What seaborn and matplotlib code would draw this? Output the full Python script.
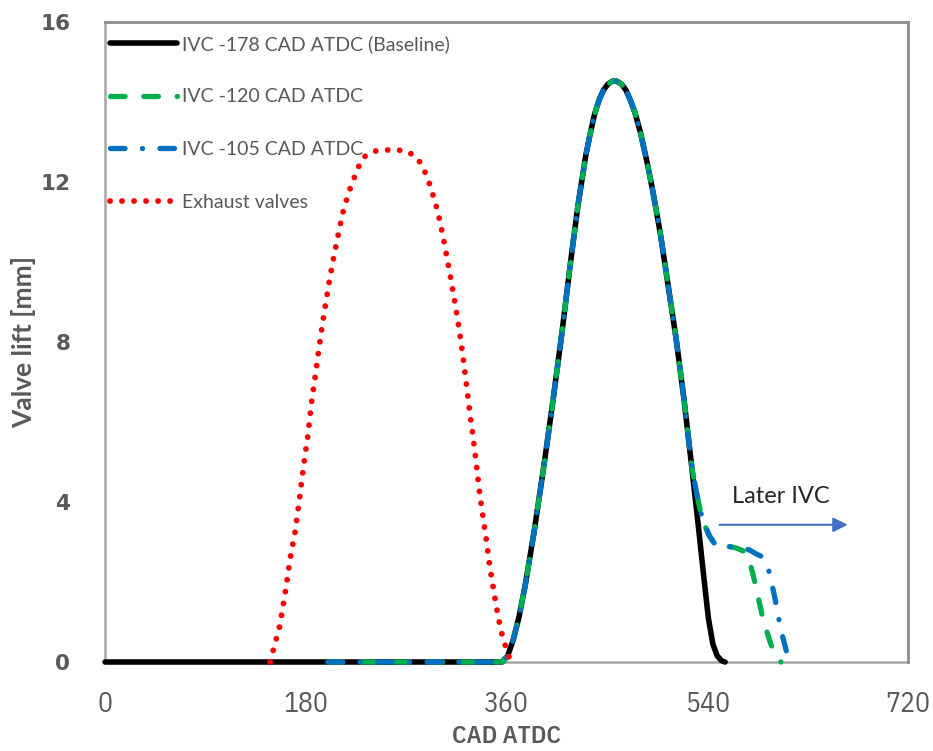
import matplotlib
matplotlib.use("Agg")
import numpy as np
import pandas as pd
import seaborn as sns
import matplotlib.pyplot as plt

# ---------------- data ----------------
exh_cad = [148, 151, 156.6, 161.8, 166.4, 170.4, 174.6, 178.6, 181.7, 185.3, 188.3,
           191.4, 194.7, 200.8, 204.5, 208.8, 213.1, 219.2, 226.8, 231.9, 241.1,
           251.6, 262.3, 270.7, 279.8, 285.2, 289.4, 292.8, 298.6, 303.1, 307,
           310.7, 314.3, 317.7, 320.6, 323.3, 325.8, 328.5, 331.3, 333.7, 336.1,
           339.1, 342.2, 344.9, 348.3, 351.9, 354, 356.4, 359.5, 362.2, 364]
exh_lift = [0, 0.31, 0.89, 1.77, 2.65, 3.24, 4.13, 5.02, 5.62, 6.51, 7.1,
            7.75, 8.4, 9.47, 10.04, 10.64, 11.22, 11.79, 12.35, 12.62, 12.77,
            12.8, 12.8, 12.77, 12.61, 12.36, 12.08, 11.8, 11.24, 10.64, 10.05,
            9.48, 8.89, 8.3, 7.71, 7.12, 6.53, 5.94, 5.35, 4.76, 4.18,
            3.59, 3.0, 2.41, 1.82, 1.23, 0.93, 0.64, 0.36, 0.13, 0]

# common intake lift (shared by all IVC cases up to ~526 CAD)
int_cad = [356, 361, 366, 371, 377, 385, 394, 402, 410, 417, 424, 431, 435, 439,
           443, 447, 451, 455, 459, 463, 467, 471, 475, 480, 486, 491, 498, 505,
           512, 519, 526]
int_lift = [0, 0.15, 0.55, 1.1, 1.95, 3.3, 5.0, 6.6, 8.3, 9.9, 11.4, 12.65, 13.2, 13.7,
            14.05, 14.3, 14.45, 14.52, 14.52, 14.45, 14.3, 14.05, 13.75, 13.25, 12.5,
            11.8, 10.7, 9.4, 8.1, 6.6, 4.9]

# baseline closing flank
base_tail_cad = [532, 537, 541, 545, 549, 553, 556]
base_tail_lift = [3.4, 2.1, 1.1, 0.45, 0.15, 0.03, 0]

# late-IVC closing flanks
ivc120_tail_cad = [530, 534, 538, 542, 546, 551, 556, 561, 566, 572, 577, 581,
                   585, 589, 593, 597, 601, 604, 606]
ivc120_tail_lift = [4.3, 3.75, 3.4, 3.15, 2.98, 2.9, 2.9, 2.88, 2.85, 2.78, 2.6, 2.2,
                    1.7, 1.2, 0.8, 0.45, 0.18, 0.04, 0]
ivc105_tail_cad = [530, 534, 538, 542, 546, 551, 556, 561, 566, 572, 578, 584,
                   588, 592, 595, 598, 601, 604, 607, 610, 612, 614]
ivc105_tail_lift = [4.3, 3.75, 3.4, 3.15, 2.98, 2.9, 2.9, 2.88, 2.87, 2.85, 2.8, 2.7,
                    2.65, 2.5, 2.3, 1.95, 1.55, 1.1, 0.7, 0.38, 0.15, 0]

base_zero_start = 0      # baseline drawn from 0 CAD
late_zero_start = 200    # late IVC cases drawn from 200 CAD

labels = ["IVC -178 CAD ATDC (Baseline)", "IVC -120 CAD ATDC",
          "IVC -105 CAD ATDC", "Exhaust valves"]
xticks = [0, 180, 360, 540, 720]
yticks = [0, 4, 8, 12, 16]

# ---------------- build tables ----------------
base = pd.DataFrame({"cad": [base_zero_start] + int_cad + base_tail_cad,
                     "lift": [0] + int_lift + base_tail_lift})
ivc120 = pd.DataFrame({"cad": [late_zero_start] + int_cad + ivc120_tail_cad,
                       "lift": [0] + int_lift + ivc120_tail_lift})
ivc105 = pd.DataFrame({"cad": [late_zero_start] + int_cad + ivc105_tail_cad,
                       "lift": [0] + int_lift + ivc105_tail_lift})
exh = pd.DataFrame({"cad": exh_cad, "lift": exh_lift})

# ---------------- style ----------------
sns.set_style("white")
plt.rcParams["font.family"] = ["Lato", "DejaVu Sans"]
plt.rcParams["lines.scale_dashes"] = False

GRAY = "#595959"
fig, ax = plt.subplots(figsize=(9.33, 7.51), dpi=100)
fig.subplots_adjust(left=105/933, right=908/933, top=1-22/751, bottom=1-662/751)

common = dict(ax=ax, x="cad", y="lift", sort=False, errorbar=None,
              clip_on=False, dash_capstyle="round", solid_capstyle="round")
sns.lineplot(data=base, color="black", linewidth=4.0, label=labels[0], zorder=3, **common)
sns.lineplot(data=ivc120, color="#00B050", linewidth=3.8, linestyle=(0, (10.5, 13.5)),
             label=labels[1], zorder=4, **common)
sns.lineplot(data=ivc105, color="#0070C0", linewidth=3.8,
             linestyle=(0, (10.5, 12.5, 0.1, 12.5)), label=labels[2], zorder=5, **common)
sns.lineplot(data=exh, color="#FF0000", linewidth=4.2, linestyle=(0, (0.05, 8.6)),
             label=labels[3], zorder=6, **common)

ax.set_xlim(0, 720)
ax.set_ylim(0, 16)
ax.set_xticks(xticks)
ax.set_yticks(yticks)

for side in ["top", "right"]:
    ax.spines[side].set_color("#8c8c8c")
    ax.spines[side].set_linewidth(2.0)
for side in ["left", "bottom"]:
    ax.spines[side].set_color("#a6a6a6")
    ax.spines[side].set_linewidth(1.8)
    ax.spines[side].set_zorder(1)

ax.tick_params(axis="both", direction="in", length=4, width=1, colors="#a6a6a6")
ax.tick_params(axis="x", pad=21, labelcolor=GRAY)
ax.tick_params(axis="y", pad=25, labelcolor=GRAY)
ax.minorticks_off()
for lbl in ax.get_yticklabels():
    lbl.set_fontfamily(["DejaVu Sans"])
    lbl.set_fontweight("bold")
    lbl.set_fontsize(15.5)
for lbl in ax.get_xticklabels():
    lbl.set_fontfamily(["IBM Plex Sans Condensed", "DejaVu Sans"])
    lbl.set_fontsize(20)

ax.set_xlabel("CAD ATDC", fontsize=18, color=GRAY, fontweight=600,
              family=["IBM Plex Sans Condensed", "DejaVu Sans"], labelpad=5)
ax.set_ylabel("Valve lift [mm]", fontsize=19, color=GRAY, fontweight="bold",
              family=["Lato", "DejaVu Sans"], labelpad=3)

ax.legend(loc="upper left", bbox_to_anchor=(0.006, 0.980), frameon=False,
          fontsize=14, labelcolor=GRAY, borderaxespad=0, borderpad=0,
          handlelength=3.43, handletextpad=0.3, labelspacing=1.84)

ax.annotate("", xy=(666, 3.43), xytext=(551, 3.43),
            arrowprops=dict(arrowstyle="-|>", color="#4472C4", lw=1.5,
                            mutation_scale=22, shrinkA=0, shrinkB=0))
ax.text(606, 4.13, "Later IVC", ha="center", va="center", fontsize=17, color="#262626")

fig.savefig("out.png", dpi=100)
